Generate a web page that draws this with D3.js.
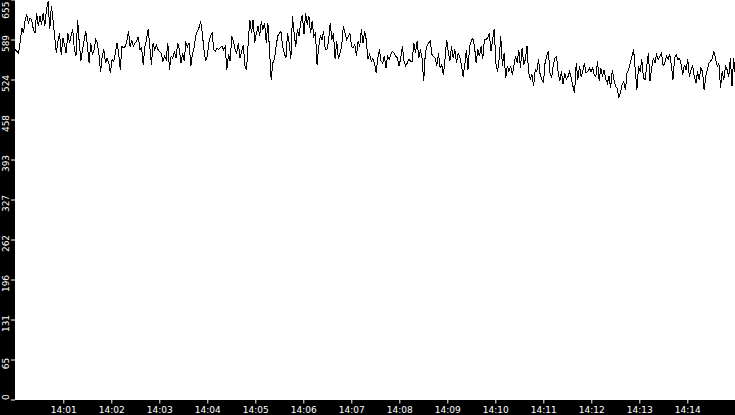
<!DOCTYPE html>
<html>
<head>
<meta charset="utf-8">
<script src="https://cdn.jsdelivr.net/npm/d3@7"></script>
<style>
  html, body { margin: 0; padding: 0; background: #000; overflow: hidden; }
  .axis text { font-family: "DejaVu Sans", sans-serif; font-size: 9px; fill: #fff; }
  .axis line { stroke: #fff; }
</style>
</head>
<body>
<svg id="chart" width="735" height="415"></svg>
<script>
// waarden, in vijf stukken van links naar rechts
var part1 = [573,570,567,587,609,600,622,630,617,625,622,606,600,633,611,628,614,633,611,639,
             652,606,644,622,595,567,587,600,565,592,581,567,600,584,595,607,573,562,622,584,
             554,573,589,603,578,551,584,565,573,589,584,565,536,562,573,551,559,551,534,557,
             554,567,584,567,540,578,576,578,587,603,578,589,578,584,587,594,573,576,548,578,
             589,607,578,548,584,573,581,573];
var part2 = [570,567,554,562,557,584,540,562,559,570,559,584,573,551,567,554,584,578,584,546,
             565,576,595,603,609,619,600,573,554,562,584,595,600,573,570,576,573,576,578,573,
             578,540,565,554,595,587,573,567,584,559,570,581,546,540,584,622,600,622,584,600,
             611,595,619,606,617,584,617,573,524,551,557,578,595,600,603,578,567,559,600,584,
             557,628,600,578,606,595,617,630,598];
var part3 = [633,614,628,600,619,595,600,548,578,595,589,603,573,573,587,617,589,600,557,587,
             557,567,578,611,600,589,595,600,578,576,581,562,587,578,606,584,603,589,557,565,
             554,559,551,535,559,573,554,551,562,543,562,557,565,570,567,562,559,546,559,578,
             554,546,551,557,554,554,584,567,587,559,573,559,521,567,578,584,587,565,562,559,
             546,567,543,548,532,557,589,570,554];
var part4 = [578,559,573,551,567,562,548,529,546,573,540,578,587,592,578,551,573,562,578,557,
             589,589,592,600,570,589,607,551,537,557,595,546,567,526,546,537,546,532,546,562,
             551,573,543,576,548,557,578,535,524,532,513,540,537,557,532,524,518,551,562,570,
             535,526,548,559,562,535,521,537,516,535,524,529,537,526,513,502,551,524,546,529,
             537,551,535,537,543,537,543,532];
var part5 = [529,554,521,543,529,540,524,518,529,510,540,524,513,510,494,502,516,521,507,535,
             540,551,562,573,540,507,546,537,557,526,524,546,567,521,543,559,551,565,557,562,
             567,546,551,562,557,565,548,524,559,565,557,559,548,532,548,540,557,529,540,546,
             529,518,537,524,543,537,507,529,540,551,554,559,570,557,546,551,510,537,524,546,
             540,529,559,513,559,532];

// ticks op de y-as (0 tot 655 in tien stappen) en de minuten op de x-as
var yTicks = [0, 65.5, 131, 196.5, 262, 327.5, 393, 458.5, 524, 589.5, 655];
var xTickMinutes = [1,2,3,4,5,6,7,8,9,10,11,12,13,14];

var startTime = new Date(2020, 0, 1, 14, 0, 0),
    endTime = new Date(2020, 0, 1, 14, 15, 0);

var values = part1.concat(part2, part3, part4, part5);
var stepMs = (endTime - startTime) / (values.length - 1);
var data = values.map(function(v, i) {
  return { time: new Date(+startTime + i * stepMs), value: v };
});

var svg = d3.select("#chart"),
    plotLeft = 15.3, plotRight = 735.3, plotBottom = 399.5, plotTop = -0.5;

// zwarte achtergrond, wit plotvlak
svg.append("rect").attr("width", 735).attr("height", 415).attr("fill", "#000");
svg.append("rect").attr("x", 15).attr("y", 0).attr("width", 720).attr("height", 400).attr("fill", "#fff");

var x = d3.scaleTime().domain([startTime, endTime]).range([plotLeft, plotRight]);
var y = d3.scaleLinear().domain([0, 655]).range([plotBottom, plotTop]);

svg.append("clipPath").attr("id", "plotclip")
  .append("rect").attr("x", 15).attr("y", 0).attr("width", 720).attr("height", 400);

var line = d3.line()
    .x(function(d) { return x(d.time); })
    .y(function(d) { return y(d.value); });

svg.append("path")
    .datum(data)
    .attr("clip-path", "url(#plotclip)")
    .attr("fill", "none")
    .attr("stroke", "#000")
    .attr("stroke-width", 1)
    .attr("shape-rendering", "crispEdges")
    .attr("d", line);

// x-as
var xTickDates = xTickMinutes.map(function(m) { return new Date(2020, 0, 1, 14, m, 0); });
var xAxis = svg.append("g")
    .attr("class", "axis")
    .attr("transform", "translate(0," + plotBottom + ")")
    .call(d3.axisBottom(x).tickValues(xTickDates).tickFormat(d3.timeFormat("%H:%M")).tickSize(4).tickSizeOuter(0));
xAxis.select(".domain").remove();
xAxis.selectAll("text").attr("font-family", null).attr("font-size", null);

// y-as met gedraaide labels
var yAxis = svg.append("g")
    .attr("class", "axis")
    .attr("transform", "translate(15,0)")
    .call(d3.axisLeft(y).tickValues(yTicks).tickFormat(function(d) { return Math.floor(d); }).tickSize(4).tickSizeOuter(0));
yAxis.select(".domain").remove();
yAxis.selectAll(".tick").each(function(d) {
  var t = d3.select(this).select("text")
      .attr("font-family", null).attr("font-size", null)
      .attr("x", 0).attr("y", 0).attr("dy", 0)
      .attr("text-anchor", "middle");
  var len = t.node().getComputedTextLength();
  var ty = y(d);
  // label iets onder de tick, maar binnen het plotvlak houden
  var c = Math.max(len / 2 + 1, Math.min(ty + 3.5, plotBottom - len / 2));
  t.attr("transform", "translate(-6.5," + (c - ty) + ") rotate(-90)");
});
</script>
</body>
</html>
